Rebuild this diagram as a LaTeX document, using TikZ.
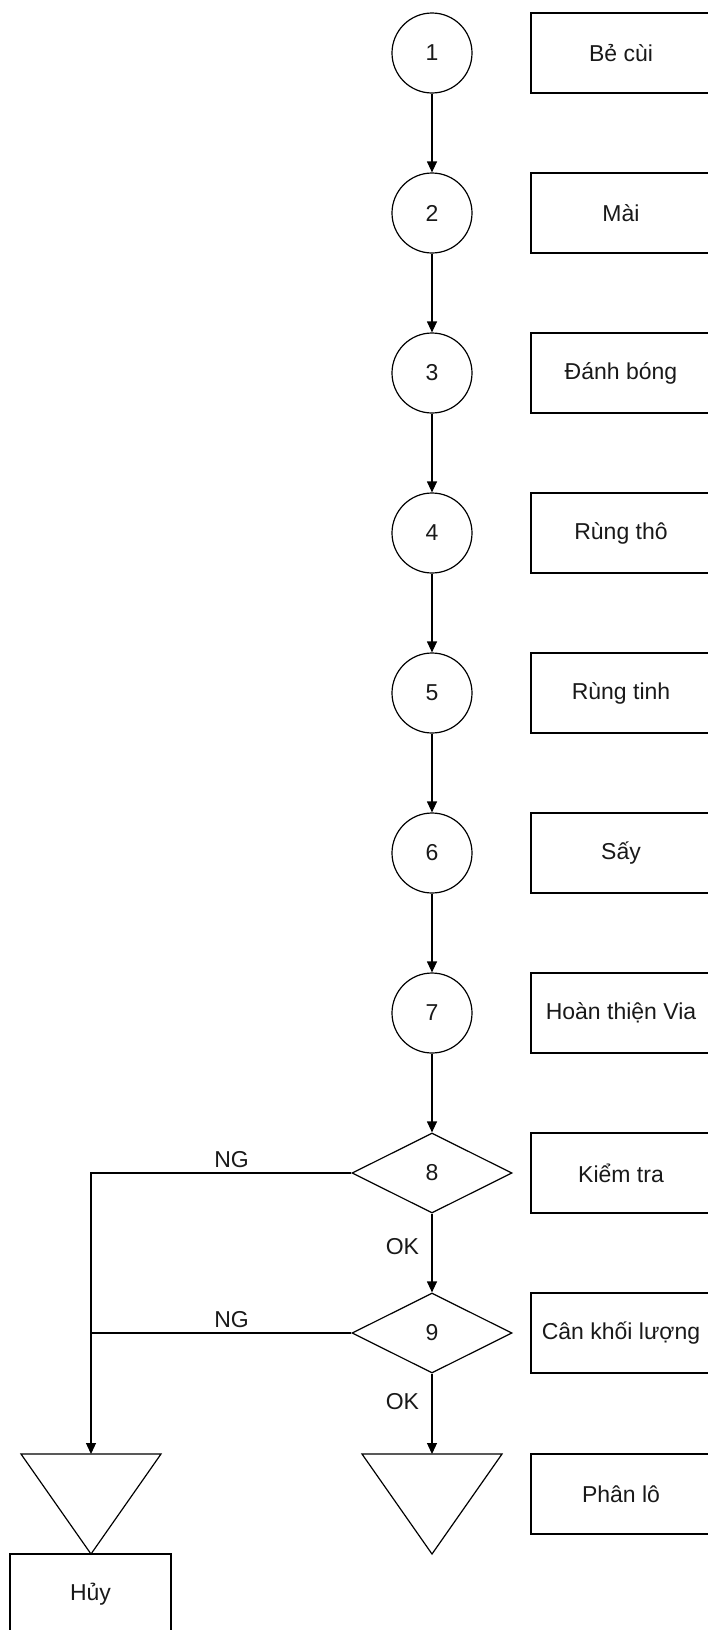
\documentclass[tikz,border=0pt]{standalone}
\usepackage{fontspec}
\setmainfont{Liberation Sans}
\usetikzlibrary{shapes.geometric,arrows.meta}
\begin{document}
\begin{tikzpicture}[x=1pt,y=-1pt,
  font=\fontsize{23}{27}\selectfont,
  every node/.style={text=black!90},
  stepcircle/.style={circle,draw=black,line width=1.2pt,minimum size=80pt,inner sep=0pt},
  labelbox/.style={rectangle,draw=black,line width=1.2pt,minimum width=180pt,minimum height=80pt,inner sep=0pt},
  decision/.style={diamond,draw=black,line width=1.2pt,minimum width=160pt,minimum height=80pt,inner sep=0pt,aspect=2},
  flow/.style={draw=black,line width=1.2pt,-{Triangle[length=11pt,width=10pt]}},
  plain/.style={draw=black,line width=1.2pt},
  tri/.style={draw=black,line width=1.2pt,line join=miter}]
\useasboundingbox (0,0) rectangle (707,1630);
\foreach \i/\t in {1/Bẻ cùi,2/Mài,3/Đánh bóng,4/Rùng thô,5/Rùng tinh,6/Sấy,7/Hoàn thiện Via}{
  \node[stepcircle] (c\i) at (432,{53+160*(\i-1)}) {\i};
  \node[labelbox] (b\i) at (621,{53+160*(\i-1)}) {\t};
}
\node[decision] (d8) at (432,1173) {8};
\node[decision] (d9) at (432,1333) {9};
\node[labelbox] (b8) at (621,1173) {Kiểm tra};
\node[labelbox] (b9) at (621,1333) {Cân khối lượng};
\node[labelbox] (b10) at (621,1494) {Phân lô};
% triangles
\coordinate (tL) at (91,1454);
\coordinate (tR) at (432,1454);
\draw[tri] (21,1454) -- (161,1454) -- (91,1554) -- cycle;
\draw[tri] (362,1454) -- (502,1454) -- (432,1554) -- cycle;
\node[labelbox,minimum width=161pt] (huy) at (90.5,1594) {Hủy};
% connectors
\foreach \a/\b in {1/2,2/3,3/4,4/5,5/6,6/7}{\draw[flow] (c\a) -- (c\b);}
\draw[flow] (c7) -- (d8);
\draw[flow] (d8) -- node[left,xshift=-9pt,pos=0.42] (ok1) {OK} (d9);
\draw[flow] (d9) -- node[left,xshift=-9pt,pos=0.35] (ok2) {OK} (tR);
\coordinate (j8) at (91,1173);
\coordinate (j9) at (91,1333);
\draw[flow] (d8.west) -- node[above,pos=0.46,yshift=1pt] (ng1) {NG} (j8) -- (tL);
\draw[plain] (d9.west) -- node[above,pos=0.46,yshift=1pt] (ng2) {NG} (j9);
\end{tikzpicture}
\end{document}
